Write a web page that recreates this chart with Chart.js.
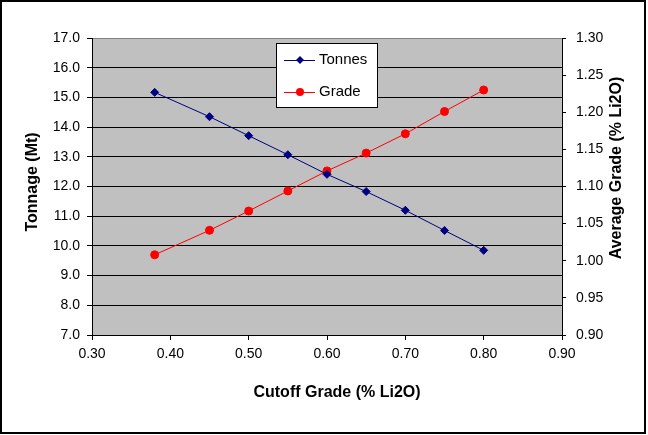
<!DOCTYPE html>
<html>
<head>
<meta charset="utf-8">
<script src="https://cdn.jsdelivr.net/npm/chart.js@4/dist/chart.umd.min.js"></script>
<style>
  html, body { margin: 0; padding: 0; background: #fff; }
  #wrap { width: 648px; height: 435px; }
</style>
</head>
<body>
<div id="wrap"><canvas id="tonnageChart" width="648" height="435"></canvas></div>
<script>
// data
const cutoffGrades = [0.38, 0.45, 0.50, 0.55, 0.60, 0.65, 0.70, 0.75, 0.80];
const tonnes = [15.17, 14.35, 13.71, 13.07, 12.41, 11.83, 11.20, 10.52, 9.85];
const avgGrades = [1.008, 1.041, 1.067, 1.094, 1.121, 1.145, 1.171, 1.201, 1.230];

const seriesNames = ["Tonnes", "Grade"];
const xTitle = "Cutoff Grade (% Li2O)";
const yTitle = "Tonnage (Mt)";
const y1Title = "Average Grade (% Li2O)";

const FONT = "'Liberation Sans', Arial, sans-serif";
Chart.defaults.font.family = FONT;
Chart.defaults.font.size = 14;
Chart.defaults.color = "#000";

// plot background, frame, titles
const decorPlugin = {
  id: "decor",
  beforeDraw(chart) {
    const {ctx, chartArea: a} = chart;
    ctx.save();
    ctx.fillStyle = "#fff";
    ctx.fillRect(0, 0, chart.width, chart.height);
    ctx.fillStyle = "#C0C0C0";
    ctx.fillRect(a.left, a.top, a.right - a.left, a.bottom - a.top);
    ctx.strokeStyle = "#808080";
    ctx.lineWidth = 1;
    ctx.beginPath();
    ctx.moveTo(a.left, a.top + 0.5);
    ctx.lineTo(a.right, a.top + 0.5);
    ctx.stroke();
    ctx.restore();
  },
  afterDraw(chart) {
    const {ctx} = chart;
    ctx.save();
    // outer frame
    ctx.strokeStyle = "#000";
    ctx.lineWidth = 2;
    ctx.strokeRect(1, 1, 644, 432);
    // axis titles
    ctx.fillStyle = "#000";
    ctx.font = "bold 16px " + FONT;
    ctx.textAlign = "center";
    ctx.textBaseline = "middle";
    ctx.fillText(xTitle, 337, 393);
    ctx.save();
    ctx.translate(33, 182);
    ctx.rotate(-Math.PI / 2);
    ctx.fillText(yTitle, 0, 0);
    ctx.restore();
    ctx.save();
    ctx.translate(617, 168);
    ctx.rotate(-Math.PI / 2);
    ctx.fillText(y1Title, 0, 0);
    ctx.restore();
    ctx.restore();
  }
};

// legend box inside the plot
const legendPlugin = {
  id: "boxLegend",
  afterDatasetsDraw(chart) {
    const {ctx} = chart;
    ctx.save();
    ctx.fillStyle = "#fff";
    ctx.fillRect(276, 43, 101, 64);
    ctx.strokeStyle = "#000";
    ctx.lineWidth = 1;
    ctx.strokeRect(276.5, 43.5, 101, 64);
    const rows = [60, 92];
    chart.data.datasets.forEach((ds, i) => {
      const y = rows[i];
      ctx.strokeStyle = ds.borderColor;
      ctx.lineWidth = 1;
      ctx.beginPath();
      ctx.moveTo(284, y + 0.5);
      ctx.lineTo(315, y + 0.5);
      ctx.stroke();
      ctx.fillStyle = ds.backgroundColor;
      ctx.beginPath();
      if (ds.pointStyle === "rectRot") {
        ctx.moveTo(300 - 4, y);
        ctx.lineTo(300, y - 4);
        ctx.lineTo(300 + 4, y);
        ctx.lineTo(300, y + 4);
        ctx.closePath();
      } else {
        ctx.arc(300, y, 4, 0, Math.PI * 2);
      }
      ctx.fill();
      ctx.fillStyle = "#000";
      ctx.font = "15px " + FONT;
      ctx.textAlign = "left";
      ctx.textBaseline = "middle";
      ctx.fillText(ds.label, 319, y);
    });
    ctx.restore();
  }
};

const ctx = document.getElementById("tonnageChart").getContext("2d");
new Chart(ctx, {
  type: "line",
  data: {
    datasets: [
      {
        label: seriesNames[0],
        data: cutoffGrades.map((x, i) => ({x: x, y: tonnes[i]})),
        yAxisID: "y",
        borderColor: "#000080",
        backgroundColor: "#000080",
        borderWidth: 1,
        pointStyle: "rectRot",
        pointRadius: 4,
        pointBorderWidth: 1,
        tension: 0
      },
      {
        label: seriesNames[1],
        data: cutoffGrades.map((x, i) => ({x: x, y: avgGrades[i]})),
        yAxisID: "y1",
        borderColor: "#FF0000",
        backgroundColor: "#FF0000",
        borderWidth: 1,
        pointStyle: "circle",
        pointRadius: 4,
        pointBorderWidth: 1,
        tension: 0
      }
    ]
  },
  options: {
    responsive: false,
    animation: false,
    devicePixelRatio: 1,
    layout: { padding: { top: 38, left: 0, right: 0, bottom: 0 } },
    plugins: {
      legend: { display: false },
      tooltip: { enabled: false }
    },
    scales: {
      x: {
        type: "linear",
        min: 0.3,
        max: 0.9,
        ticks: { stepSize: 0.1, padding: 6, callback: v => v.toFixed(2) },
        grid: { drawOnChartArea: false, tickLength: 5, tickColor: "#000" },
        border: { color: "#000", width: 1 },
        afterFit: s => { s.height = 100; }
      },
      y: {
        position: "left",
        min: 7,
        max: 17,
        ticks: { stepSize: 1, padding: 7, callback: v => v.toFixed(1) },
        grid: {
          color: c => (c.tick && c.tick.value === 17) ? "rgba(0,0,0,0)" : "#000",
          tickColor: "#000",
          tickLength: 5
        },
        border: { color: "#000", width: 1 },
        afterFit: s => { s.width = 92; }
      },
      y1: {
        position: "right",
        min: 0.9,
        max: 1.3,
        ticks: { stepSize: 0.05, padding: 10, callback: v => v.toFixed(2) },
        grid: { drawOnChartArea: false, tickColor: "#000", tickLength: 4 },
        border: { color: "#000", width: 1 },
        afterFit: s => { s.width = 86; }
      }
    }
  },
  plugins: [decorPlugin, legendPlugin]
});
</script>
</body>
</html>
